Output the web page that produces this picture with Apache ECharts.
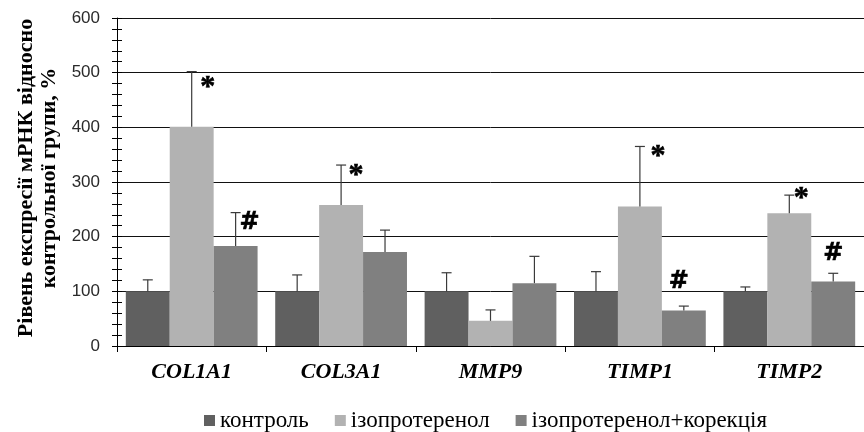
<!DOCTYPE html>
<html><head><meta charset="utf-8">
<script src="https://cdn.jsdelivr.net/npm/echarts@6/dist/echarts.min.js"></script>
<style>html,body{margin:0;padding:0;background:#fff}#c{width:864px;height:432px}</style>
</head><body><div id="c"></div>
<script>
// ---- data ----
const categories = ['COL1A1', 'COL3A1', 'MMP9', 'TIMP1', 'TIMP2'];
const seriesNames = ['контроль', 'ізопротеренол', 'ізопротеренол+корекція'];
const control    = [100, 100, 100, 100, 100];
const controlErr = [121, 130, 134, 136, 108];
const iso        = [401, 258, 46, 255, 243];
const isoErr     = [502, 331, 66, 365, 276];
const corr       = [183, 172, 115, 65, 118];
const corrErr    = [244, 212, 164, 73, 133];
const isoMarks   = ['*', '*', '', '*', '*'];
const corrMarks  = ['#', '', '', '#', '#'];
const yTicks = [0, 100, 200, 300, 400, 500, 600];

// ---- layout / style (not data) ----
const colors = ['#606060', '#b2b2b2', '#808080'];
const catGap = 0.118;
const starOffset = [[16, 16], [15, 10], [0, 0], [18, 10], [12, 3]];
const hashOffset = [[14, 10], [0, 0], [0, 0], [-5, -24], [0, -20]];
const serif = 'Liberation Serif';

const chart = echarts.init(document.getElementById('c'), null, {renderer: 'canvas'});

function barGeom(api, catIdx, k) {
  const band = api.size([1, 0])[0];
  const bw = band * (1 - catGap) / 3;
  const c = api.coord([catIdx, 0]);
  return {x: c[0] + (k - 1) * bw, bw: bw};
}

function errSeries(k, vals, tops) {
  return {
    type: 'custom', xAxisIndex: 0, yAxisIndex: 0, z: 5, silent: true,
    data: vals.map((v, i) => [i, v, tops[i]]),
    renderItem: function (params, api) {
      const i = api.value(0);
      const g = barGeom(api, i, k);
      const y0 = api.coord([i, api.value(1)])[1];
      const y1 = api.coord([i, api.value(2)])[1];
      const st = {stroke: '#3a3a3a', lineWidth: 1.2};
      return {type: 'group', children: [
        {type: 'line', shape: {x1: g.x, y1: y0, x2: g.x, y2: y1}, style: st},
        {type: 'line', shape: {x1: g.x - 5, y1: y1, x2: g.x + 5, y2: y1}, style: st}
      ]};
    }
  };
}

function markSeries(k, tops, marks, offs, fontStr) {
  return {
    type: 'custom', xAxisIndex: 0, yAxisIndex: 0, z: 6, silent: true,
    data: tops.map((t, i) => [i, t]),
    renderItem: function (params, api) {
      const i = api.value(0);
      if (!marks[i]) return null;
      const g = barGeom(api, i, k);
      const y1 = api.coord([i, api.value(1)])[1];
      return {type: 'text', x: g.x + offs[i][0], y: y1 + offs[i][1], style: {
        text: marks[i], x: 0, y: 0,
        align: 'center', verticalAlign: 'middle',
        font: fontStr, fill: '#000', stroke: '#000', lineWidth: 0.6
      }};
    }
  };
}

const yBase = {
  type: 'value', min: yTicks[0], max: yTicks[yTicks.length - 1], interval: 100,
  position: 'left'
};

chart.setOption({
  animation: false,
  textStyle: {fontFamily: serif},
  grid: {left: 117, top: 18, width: 757, height: 328},
  legend: {
    left: 199, top: 404, itemWidth: 11, itemHeight: 11, itemGap: 26,
    icon: 'rect',
    data: seriesNames,
    textStyle: {fontFamily: serif, fontSize: 23, fontWeight: 'normal', color: '#000'}
  },
  xAxis: [
    {type: 'category', data: categories, position: 'bottom',
     axisLine: {lineStyle: {color: '#000', width: 1}},
     axisTick: {show: true, alignWithLabel: false, length: 6, lineStyle: {color: '#000'}},
     axisLabel: {margin: 15, fontFamily: serif, fontStyle: 'italic', fontWeight: 'bold', fontSize: 22, color: '#000'}},
    {type: 'category', data: categories, position: 'bottom',
     axisLine: {show: false},
     axisTick: {show: true, inside: true, alignWithLabel: true, length: 6, lineStyle: {color: '#000'}},
     axisLabel: {show: false}}
  ],
  yAxis: [
    Object.assign({}, yBase, {
      axisLine: {show: true, lineStyle: {color: '#000'}},
      axisTick: {show: true, length: 5, lineStyle: {color: '#000'}},
      minorTick: {show: true, splitNumber: 5, length: 5, lineStyle: {color: '#000'}},
      splitLine: {show: true, lineStyle: {color: '#111', width: 1}},
      axisLabel: {margin: 17, fontFamily: 'Liberation Sans', fontSize: 17, color: '#2a2a2a'},
      name: 'Рівень експресії мРНК відносно\nконтрольної групи, %',
      nameLocation: 'middle', nameRotate: 90, nameGap: 52,
      nameTextStyle: {fontFamily: serif, fontWeight: 'bold', fontSize: 22, lineHeight: 23, color: '#000', padding: [0, 0, 0, 8]}
    }),
    Object.assign({}, yBase, {
      axisLine: {show: false},
      axisTick: {show: true, inside: true, length: 5, lineStyle: {color: '#000'}},
      minorTick: {show: true, splitNumber: 5, length: 5, lineStyle: {color: '#000'}},
      splitLine: {show: false}, axisLabel: {show: false}
    })
  ],
  series: [
    {name: seriesNames[0], type: 'bar', data: control, itemStyle: {color: colors[0]}, barGap: '0%', barCategoryGap: (catGap * 100) + '%'},
    {name: seriesNames[1], type: 'bar', data: iso, itemStyle: {color: colors[1]}, barGap: '0%', barCategoryGap: (catGap * 100) + '%'},
    {name: seriesNames[2], type: 'bar', data: corr, itemStyle: {color: colors[2]}, barGap: '0%', barCategoryGap: (catGap * 100) + '%'},
    errSeries(0, control, controlErr),
    errSeries(1, iso, isoErr),
    errSeries(2, corr, corrErr),
    markSeries(1, isoErr, isoMarks, starOffset, 'bold 30px serif'),
    markSeries(2, corrErr, corrMarks, hashOffset, 'bold 24px "DejaVu Sans"')
  ]
});
</script></body></html>
